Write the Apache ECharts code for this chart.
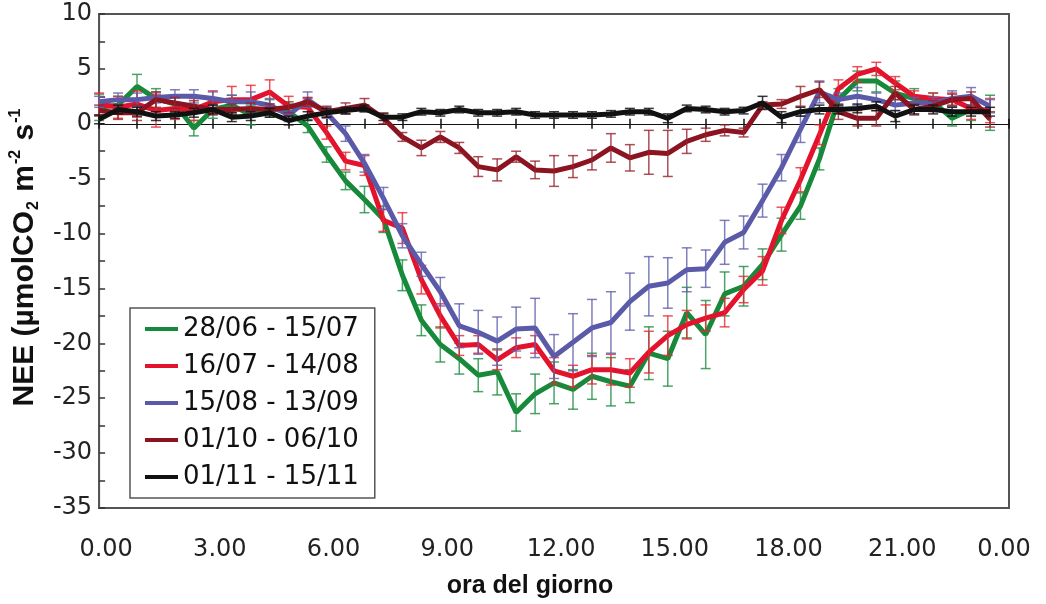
<!DOCTYPE html>
<html>
<head>
<meta charset="utf-8">
<script src="https://cdn.jsdelivr.net/npm/echarts@6/dist/echarts.min.js"></script>
<style>
html,body{margin:0;padding:0;background:#fff;}
#chart{width:1046px;height:604px;}
</style>
</head>
<body>
<div id="chart"></div>
<script>
// half-hour time points (hours)
const hours = [0,0.5,1,1.5,2,2.5,3,3.5,4,4.5,5,5.5,6,6.5,7,7.5,8,8.5,9,9.5,10,10.5,11,11.5,
  12,12.5,13,13.5,14,14.5,15,15.5,16,16.5,17,17.5,18,18.5,19,19.5,20,20.5,21,21.5,22,22.5,23,23.5];

const seriesNames = ['28/06 - 15/07','16/07 - 14/08','15/08 - 13/09','01/10 - 06/10','01/11 - 15/11'];

const green = [1.5,1.7,3.4,2.3,1.8,-0.4,1.3,1.7,0.8,1.4,1.1,-0.2,-2.8,-5.2,-6.9,-8.7,-13.8,-17.9,-20.1,-21.4,-22.9,-22.6,-26.3,-24.6,
  -23.6,-24.2,-23.0,-23.5,-23.9,-20.9,-21.4,-17.2,-19.2,-15.5,-14.8,-12.8,-10.1,-7.5,-3.2,2.2,3.9,3.9,2.8,2.3,2.0,0.5,1.3,1.0];
const greenErr = [1.2,0.8,1.1,0.9,0.8,0.7,0.8,0.9,0.9,0.8,0.7,0.6,0.7,0.8,1.2,1.2,1.4,1.4,1.6,1.4,1.5,2.1,1.7,1.8,
  1.9,1.8,2.1,2.2,1.5,2.4,2.5,2.3,3.1,2.0,1.8,1.4,1.5,1.2,1.0,1.0,0.9,1.0,1.1,0.9,0.8,0.7,1.0,1.6];

const red = [1.8,1.5,1.8,1.2,1.4,1.3,2.0,2.2,2.2,2.9,1.6,1.5,-0.8,-3.4,-3.8,-8.8,-9.5,-14.2,-17.5,-20.2,-20.1,-21.5,-20.4,-20.1,
  -22.5,-23.0,-22.4,-22.4,-22.7,-20.8,-19.3,-18.3,-17.7,-17.2,-15.1,-13.4,-8.8,-5.1,-1.0,3.2,4.5,5.0,3.7,2.5,2.3,2.2,1.4,1.2];
const redErr = [1.0,1.0,1.2,1.5,1.0,1.0,1.0,1.2,1.3,1.1,0.9,0.8,0.6,0.8,0.9,1.0,1.4,1.3,1.1,0.9,0.8,0.9,0.9,0.8,
  1.2,1.0,1.3,1.4,1.3,1.9,1.8,1.3,1.2,1.3,1.2,1.3,1.2,1.1,0.9,0.8,0.7,0.6,0.6,0.5,0.5,0.6,1.0,1.1];

const blue = [2.0,2.2,2.2,2.4,2.5,2.5,2.3,2.0,2.0,1.7,0.8,2.2,1.0,-0.9,-3.6,-6.8,-10.2,-12.8,-15.3,-18.4,-19.0,-19.8,-18.7,-18.6,
  -21.2,-19.9,-18.6,-18.1,-16.2,-14.8,-14.5,-13.3,-13.2,-10.8,-9.9,-7.0,-4.0,-0.5,2.9,2.2,2.5,2.2,1.7,1.9,1.9,2.3,2.5,1.6];
const blueErr = [0.5,0.6,0.6,0.5,0.6,0.6,0.6,0.6,0.9,0.6,0.6,0.7,0.5,0.7,0.8,1.0,1.1,1.1,1.3,2.0,2.0,2.2,2.0,2.7,
  2.0,2.6,2.6,2.8,2.6,2.7,2.3,2.0,1.7,2.0,1.5,1.5,1.2,1.2,1.0,0.6,0.8,0.6,0.5,0.5,0.5,0.7,0.8,0.6];

const maroon = [1.2,1.0,1.0,2.2,1.9,1.6,1.3,1.3,1.4,1.3,1.5,2.0,1.1,1.4,1.7,0.5,-1.2,-2.2,-1.2,-2.2,-3.9,-4.2,-3.0,-4.2,
  -4.3,-3.9,-3.3,-2.2,-3.1,-2.6,-2.7,-1.6,-1.0,-0.6,-0.8,1.7,1.8,2.5,3.1,1.1,0.5,0.5,2.8,1.3,1.6,2.2,2.3,0.4];
const maroonErr = [0.5,0.6,0.7,0.7,0.5,0.5,0.5,0.5,0.5,0.5,0.5,0.4,0.5,0.5,0.6,0.5,0.4,0.7,0.5,0.5,0.9,1.0,0.5,0.8,
  1.4,1.0,0.9,1.3,1.2,2.0,2.1,1.1,0.6,0.5,0.4,0.3,0.4,0.9,0.7,0.7,0.7,0.7,0.6,0.5,0.5,0.5,0.6,0.7];

const black = [0.4,1.3,1.1,0.7,0.8,1.0,1.3,0.6,0.7,1.0,0.3,0.7,1.0,1.2,1.4,0.6,0.6,1.1,1.0,1.3,1.0,1.0,1.1,0.8,
  0.8,0.8,0.8,0.9,1.1,1.1,0.5,1.4,1.3,1.1,1.2,1.9,0.6,1.1,1.3,1.3,1.4,1.6,0.7,1.3,1.3,1.1,1.1,1.1];
const blackErr = [0.4,0.4,0.4,0.4,0.3,0.4,0.4,0.4,0.4,0.4,0.4,0.4,0.4,0.3,0.3,0.3,0.3,0.3,0.3,0.3,0.3,0.3,0.3,0.3,
  0.3,0.3,0.3,0.3,0.3,0.3,0.4,0.3,0.3,0.3,0.3,0.6,0.5,0.4,0.4,0.4,0.4,0.4,0.5,0.4,0.4,0.4,0.4,0.4];

const xTickLabels = ['0.00','3.00','6.00','9.00','12.00','15.00','18.00','21.00','0.00'];

const lineColors = ['#17893a','#e3122d','#5b5aa8','#8b1420','#111111'];
const errColors = ['rgba(30,140,65,0.8)','rgba(230,40,50,0.8)','rgba(95,95,175,0.8)','rgba(150,35,45,0.8)','rgba(20,20,20,0.85)'];
const values = [green, red, blue, maroon, black];
const errs = [greenErr, redErr, blueErr, maroonErr, blackErr];

function errRenderer(color) {
  return function (params, api) {
    const x = api.value(0);
    const lo = api.coord([x, api.value(1)]);
    const hi = api.coord([x, api.value(2)]);
    const w = 5;
    const style = { stroke: color, lineWidth: 1.5 };
    return {
      type: 'group',
      children: [
        { type: 'line', shape: { x1: lo[0], y1: lo[1], x2: hi[0], y2: hi[1] }, style: style },
        { type: 'line', shape: { x1: lo[0] - w, y1: lo[1], x2: lo[0] + w, y2: lo[1] }, style: style },
        { type: 'line', shape: { x1: hi[0] - w, y1: hi[1], x2: hi[0] + w, y2: hi[1] }, style: style }
      ]
    };
  };
}

const series = [];
for (let s = 0; s < 5; s++) {
  series.push({
    name: seriesNames[s],
    type: 'line',
    xAxisIndex: 0,
    yAxisIndex: 0,
    data: hours.map((h, i) => [h, values[s][i]]),
    symbol: 'none',
    lineStyle: { width: 5, color: lineColors[s] },
    itemStyle: { color: lineColors[s] },
    z: 2 + s * 2
  });
  series.push({
    name: 'err' + s,
    type: 'custom',
    xAxisIndex: 0,
    yAxisIndex: 0,
    renderItem: errRenderer(errColors[s]),
    data: hours.map((h, i) => [h, values[s][i] - errs[s][i], values[s][i] + errs[s][i]]),
    encode: { x: 0, y: [1, 2] },
    z: 3 + s * 2
  });
}

const chart = echarts.init(document.getElementById('chart'), null, { renderer: 'canvas' });
chart.setOption({
  animation: false,
  backgroundColor: '#ffffff',
  grid: { left: 96, right: 37, top: 14, bottom: 95, show: true, borderColor: '#555', borderWidth: 2, backgroundColor: 'transparent' },
  legend: {
    data: seriesNames.map(n => ({ name: n, icon: 'rect' })),
    orient: 'vertical',
    left: 130,
    top: 308,
    itemWidth: 33,
    itemHeight: 4,
    itemGap: 9,
    padding: [7, 16, 7, 15],
    borderColor: '#555',
    borderWidth: 1.5,
    backgroundColor: '#fff',
    textStyle: { fontFamily: 'DejaVu Sans', fontSize: 26, color: '#111', lineHeight: 28 }
  },
  xAxis: [
    {
      type: 'value', min: 0, max: 24, interval: 3, position: 'bottom',
      axisLine: { show: true, onZero: false, lineStyle: { color: '#555', width: 2 } },
      axisTick: { show: false },
      splitLine: { show: false },
      axisLabel: {
        fontFamily: 'DejaVu Sans', fontSize: 24, color: '#222', margin: 30,
        formatter: function (v) {
          const t = xTickLabels[Math.round(v / 3)];
          return v >= 24 ? '{e|' + t + '}' : '{n|' + t + '}';
        },
        rich: {
          n: { fontFamily: 'DejaVu Sans', fontSize: 24, color: '#222', padding: [0, 0, 0, 14] },
          e: { fontFamily: 'DejaVu Sans', fontSize: 24, color: '#222', padding: [0, 10, 0, 0] }
        }
      },
      name: 'ora del giorno', nameLocation: 'middle', nameGap: 66,
      nameTextStyle: { fontFamily: 'Liberation Sans', fontWeight: 'bold', fontSize: 25, color: '#111', padding: [0, 48, 0, 0] }
    },
    {
      type: 'value', min: 0, max: 24, interval: 1, position: 'bottom',
      axisLine: { show: true, onZero: true, onZeroAxisIndex: 0, lineStyle: { color: '#111', width: 1.2 } },
      axisTick: { show: true, inside: false, length: 5, lineStyle: { color: '#111', width: 1.5 } },
      axisLabel: { show: false }, splitLine: { show: false }
    },
    {
      type: 'value', min: 0, max: 24, interval: 1, position: 'bottom',
      axisLine: { show: true, onZero: true, onZeroAxisIndex: 0, lineStyle: { color: '#111', width: 1.2 } },
      axisTick: { show: true, inside: true, length: 5, lineStyle: { color: '#111', width: 1.5 } },
      axisLabel: { show: false }, splitLine: { show: false }
    }
  ],
  yAxis: {
    type: 'value', min: -35, max: 10, interval: 5,
    axisLine: { show: true, onZero: false, lineStyle: { color: '#555', width: 2 } },
    axisTick: { show: true, inside: true, length: 6, lineStyle: { color: '#333', width: 1.5 } },
    minorTick: { show: true, splitNumber: 2, length: 6, lineStyle: { color: '#333', width: 1.5 } },
    splitLine: { show: false },
    axisLabel: { fontFamily: 'DejaVu Sans', fontSize: 24, color: '#222', margin: 7 },
    name: '{t|NEE (µmolCO}{sub|2}{t| m}{sup|-2}{t| s}{sup|-1}',
    nameLocation: 'middle', nameRotate: 90, nameGap: 50,
    nameTextStyle: {
      padding: [0, 0, 0, 8],
      rich: {
        t: { fontFamily: 'Liberation Sans', fontWeight: 'bold', fontSize: 30, color: '#111', lineHeight: 34, verticalAlign: 'middle' },
        sub: { fontFamily: 'Liberation Sans', fontWeight: 'bold', fontSize: 16, color: '#111', lineHeight: 16, verticalAlign: 'bottom', padding: [0, 1, 0, 1] },
        sup: { fontFamily: 'Liberation Sans', fontWeight: 'bold', fontSize: 16, color: '#111', lineHeight: 16, verticalAlign: 'top', padding: [0, 1, 0, 1] }
      }
    }
  },
  series: series
});
</script>
</body>
</html>
